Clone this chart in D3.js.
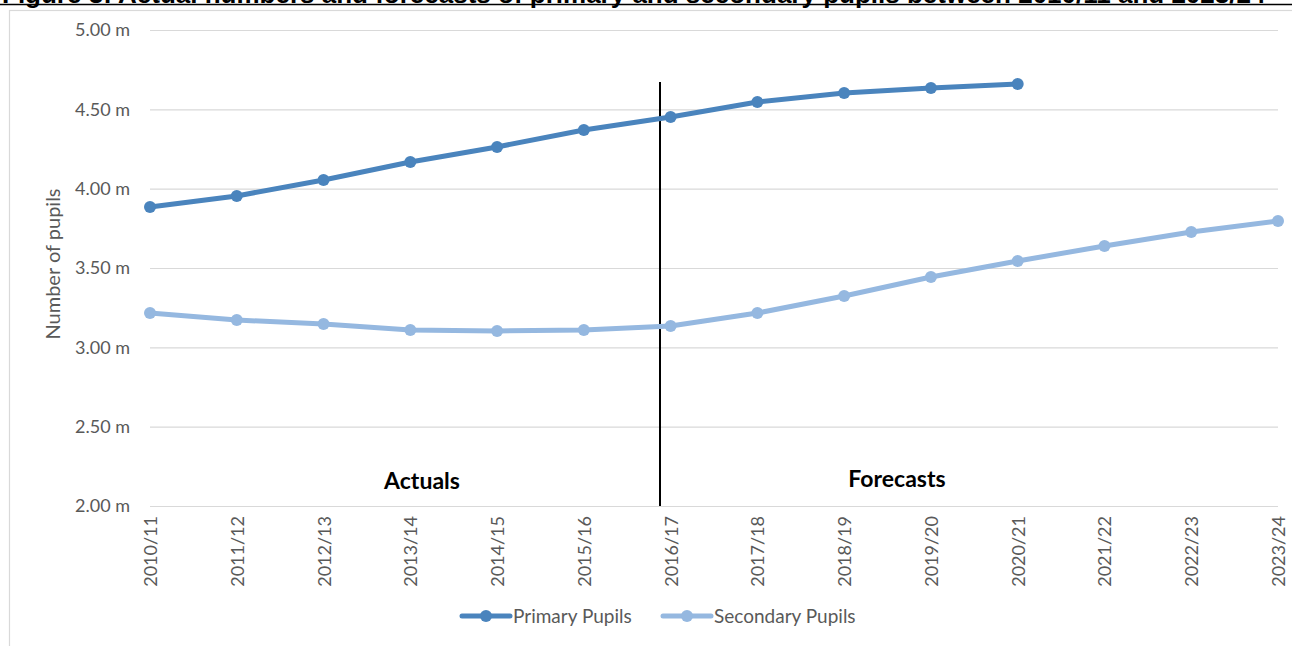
<!DOCTYPE html>
<html><head><meta charset="utf-8">
<script src="https://cdn.jsdelivr.net/npm/d3@7"></script>
<style>
body{margin:0;background:#fff;}
svg{display:block;}
</style></head>
<body>
<svg id="c" width="1292" height="646"></svg>
<script>
const categories = ["2010/11","2011/12","2012/13","2013/14","2014/15","2015/16","2016/17","2017/18","2018/19","2019/20","2020/21","2021/22","2022/23","2023/24"];
const primaryPupils = [3.885,3.954,4.055,4.168,4.263,4.370,4.452,4.546,4.603,4.634,4.660,null,null,null];
const secondaryPupils = [3.216,3.172,3.147,3.109,3.103,3.109,3.134,3.216,3.324,3.443,3.544,3.639,3.727,3.796];
const yTicks = [2.0,2.5,3.0,3.5,4.0,4.5,5.0];
const seriesNames = ["Primary Pupils","Secondary Pupils"];
const colors = ["#4a84bd","#95b8e0"];
const titleText = "Figure 3: Actual numbers and forecasts of primary and secondary pupils between 2010/11 and 2023/24";

const svg = d3.select("#c");
const font = "Lato, 'Open Sans', sans-serif";

// title (clipped at the top edge, as in the reference)
svg.append("text").attr("x",2).attr("y",3).attr("font-family","'Liberation Sans', Arial, sans-serif")
  .attr("font-weight","bold").attr("font-size",26).attr("fill","#000").text(titleText);
svg.append("line").attr("x1",0).attr("x2",1292).attr("y1",4.5).attr("y2",4.5).attr("stroke","#000").attr("stroke-width",1.5);

// chart frame
svg.append("rect").attr("x",9.5).attr("y",10.5).attr("width",1300).attr("height",660)
  .attr("fill","none").attr("stroke","#d9d9d9").attr("stroke-width",1.2);

const x = d3.scalePoint().domain(categories).range([150,1278]);
const y = d3.scaleLinear().domain([2,5]).range([506,30]);

// gridlines + y labels
const yAxis = d3.axisLeft(y).tickValues(yTicks).tickSize(-(1278-150)).tickPadding(20)
  .tickFormat(d => d3.format(".2f")(d) + " m");
const gy = svg.append("g").attr("transform","translate(150,0)").call(yAxis);
gy.select(".domain").remove();
gy.selectAll(".tick line").attr("stroke","#d9d9d9").attr("stroke-width",1.2);
gy.selectAll(".tick text").attr("font-family",font).attr("font-size",18).attr("fill","#595959");

// x axis labels
const xAxis = d3.axisBottom(x).tickSize(0).tickPadding(0);
const gx = svg.append("g").attr("transform","translate(0,506)").call(xAxis);
gx.select(".domain").remove();
gx.selectAll(".tick text").attr("font-family",font).attr("font-size",18).attr("fill","#595959")
  .attr("transform","translate(6.5,10) rotate(-90)").attr("text-anchor","end").attr("dy",0).attr("dx",0).attr("y",0).attr("x",0);

// y axis title
svg.append("text").attr("transform","translate(60,264) rotate(-90)").attr("text-anchor","middle")
  .attr("font-family",font).attr("font-size",20).attr("fill","#595959").text("Number of pupils");

// divider
svg.append("line").attr("x1",660).attr("x2",660).attr("y1",82).attr("y2",506).attr("stroke","#000").attr("stroke-width",2);

svg.append("text").attr("x",422).attr("y",489).attr("text-anchor","middle").attr("font-family",font)
  .attr("font-weight","bold").attr("font-size",23).attr("fill","#000").text("Actuals");
svg.append("text").attr("x",897).attr("y",487).attr("text-anchor","middle").attr("font-family",font)
  .attr("font-weight","bold").attr("font-size",23).attr("fill","#000").text("Forecasts");

const series = [primaryPupils, secondaryPupils];
const line = d3.line().x(d => x(d.c)).y(d => y(d.v));
series.forEach((vals, i) => {
  const data = categories.map((c, j) => ({c, v: vals[j]})).filter(d => d.v != null);
  svg.append("path").datum(data).attr("d", line).attr("fill","none").attr("stroke",colors[i])
    .attr("stroke-width",5).attr("stroke-linejoin","round").attr("stroke-linecap","round");
  svg.selectAll(null).data(data).enter().append("circle").attr("cx",d=>x(d.c)).attr("cy",d=>y(d.v))
    .attr("r",6).attr("fill",colors[i]);
});

// legend
const legendX = [462, 663];
seriesNames.forEach((n, i) => {
  const g = svg.append("g").attr("transform",`translate(${legendX[i]},616)`);
  g.append("line").attr("x1",0).attr("x2",48).attr("y1",0).attr("y2",0).attr("stroke",colors[i]).attr("stroke-width",5).attr("stroke-linecap","round");
  g.append("circle").attr("cx",24).attr("cy",0).attr("r",6).attr("fill",colors[i]);
  g.append("text").attr("x",51).attr("y",6.5).attr("font-family",font).attr("font-size",19).attr("fill","#595959").text(n);
});
</script>
</body></html>
